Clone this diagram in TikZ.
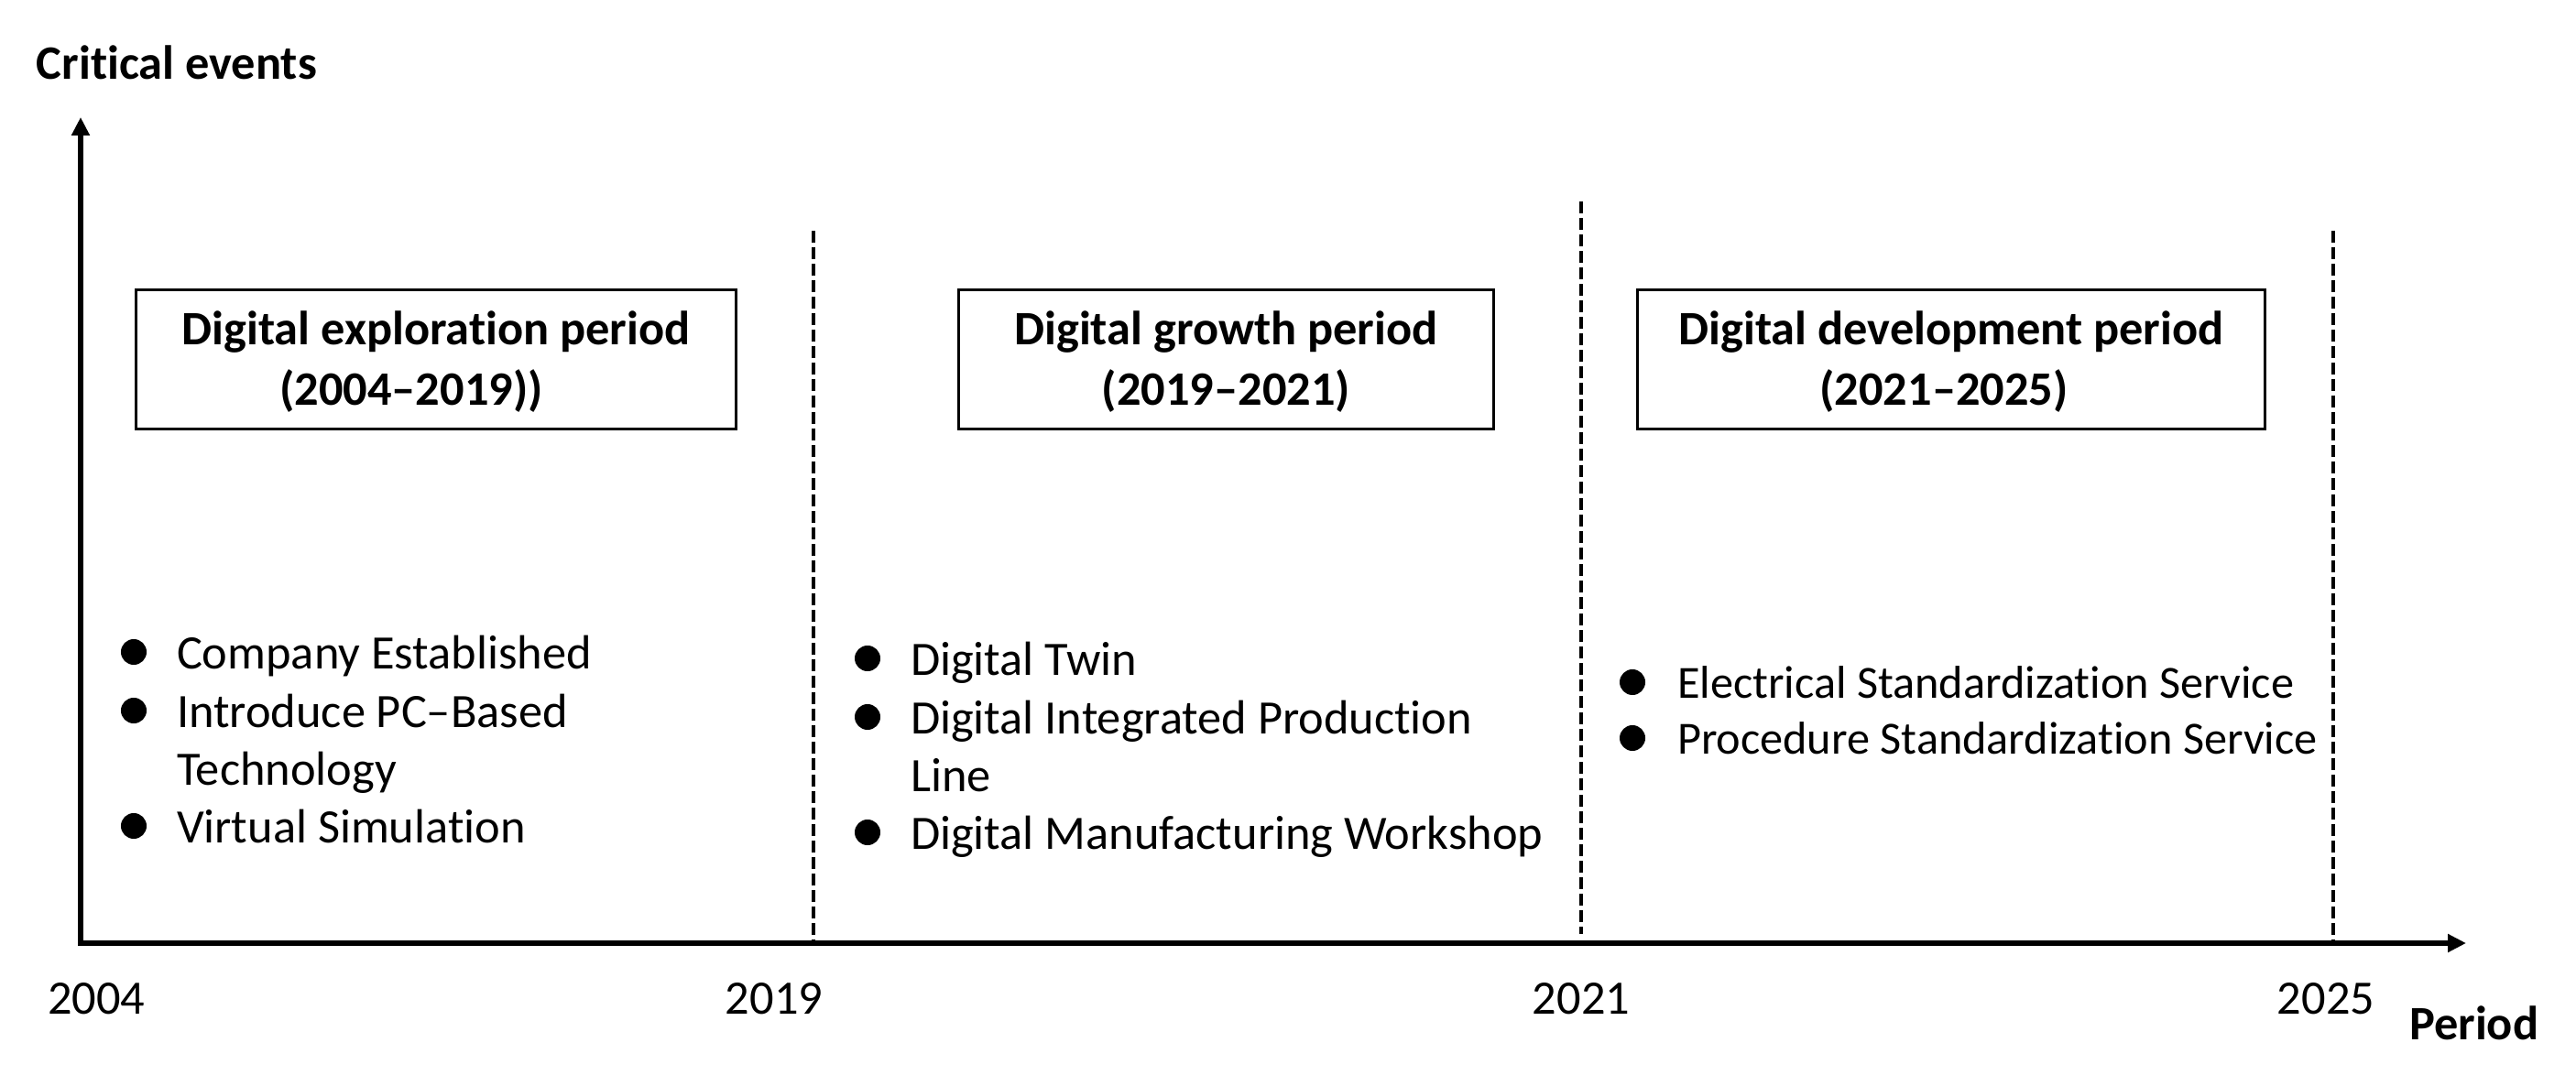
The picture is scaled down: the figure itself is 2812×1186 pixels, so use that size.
\documentclass[tikz,border=0pt]{standalone}
\usepackage{fontspec}
\setmainfont{Carlito}[Ligatures={NoCommon}]
\usetikzlibrary{arrows.meta}
\begin{document}
\begin{tikzpicture}[x=0.01cm,y=-0.01cm,
  lbl/.style={inner sep=0pt, outer sep=0pt, font=\fontsize{14.9}{18}\selectfont},
  smalllbl/.style={inner sep=0pt, outer sep=0pt, font=\fontsize{14.3}{17}\selectfont},
  ttl/.style={inner sep=0pt, outer sep=0pt, font=\fontsize{14.9}{18}\selectfont\bfseries},
  periodbox/.style={draw, line width=0.85pt, inner sep=0pt, outer sep=0pt, minimum height=1.51cm},
  axisline/.style={line width=1.7pt, line join=miter,
    {Triangle[length=0.2cm,width=0.19cm]}-{Triangle[length=0.2cm,width=0.19cm]}},
  divider/.style={line width=1.1pt, dash pattern=on 0.13cm off 0.05cm},
  dot/.style={circle, fill=black, inner sep=0pt, minimum size=0.28cm}
]
\useasboundingbox (0,0) rectangle (2812,1186);

% axes
\coordinate (O) at (88,1030);
\coordinate (ytop) at (88,128);
\coordinate (xend) at (2692,1030);
\draw[axisline] (ytop) -- (O) -- (xend);

% dividers
\coordinate (t19) at (888,252);
\coordinate (t21) at (1726,220);
\coordinate (b21) at (1726,1020);
\coordinate (t25) at (2547,252);
\draw[divider] (t19) -- (t19 |- O);
\draw[divider] (t21) -- (b21);
\draw[divider] (t25) -- (t25 |- O);

% axis titles
\node[ttl, anchor=base west] (ylab) at (40,87) {Critical events};
\node[ttl, anchor=base west] (xlab) at (2630,1135) {Period};

% year labels
\node[lbl, anchor=base west] (y2004) at (52,1107) {2004};
\node[lbl, anchor=base] (y2019) at (845,1107) {2019};
\node[lbl, anchor=base] (y2021) at (1726,1107) {2021};
\node[lbl, anchor=base] (y2025) at (2539,1107) {2025};

% period boxes
\node[periodbox, minimum width=6.54cm] (b1) at (476,392.5) {};
\node[periodbox, minimum width=5.83cm] (b2) at (1338.5,392.5) {};
\node[periodbox, minimum width=6.84cm] (b3) at (2130,392.5) {};

\node[ttl, anchor=base] (b1a) at (476,377) {Digital exploration period};
\node[ttl, anchor=base] (b1b) at (449,443) {(2004–2019))};
\node[ttl, anchor=base] (b2a) at (1338.5,377) {Digital growth period};
\node[ttl, anchor=base] (b2b) at (1338.5,443) {(2019–2021)};
\node[ttl, anchor=base] (b3a) at (2130,377) {Digital development period};
\node[ttl, anchor=base] (b3b) at (2122,443) {(2021–2025)};

% events column 1
\node[dot] (d1a) at (146,712) {};
\node[dot] (d1b) at (146,776) {};
\node[dot] (d1c) at (146,902) {};
\node[lbl, anchor=base west] (e1a) at (193,731) {Company Established};
\node[lbl, anchor=base west] (e1b) at (193,795) {Introduce PC–Based};
\node[lbl, anchor=base west] (e1c) at (193,858) {Technology};
\node[lbl, anchor=base west] (e1d) at (193,921) {Virtual Simulation};

% events column 2
\node[dot] (d2a) at (947,719) {};
\node[dot] (d2b) at (947,783) {};
\node[dot] (d2c) at (947,909) {};
\node[lbl, anchor=base west] (e2a) at (994,738) {Digital Twin};
\node[lbl, anchor=base west] (e2b) at (994,802) {Digital Integrated Production};
\node[lbl, anchor=base west] (e2c) at (994,865) {Line};
\node[lbl, anchor=base west] (e2d) at (994,928) {Digital Manufacturing Workshop};

% events column 3
\node[dot] (d3a) at (1782,745) {};
\node[dot] (d3b) at (1782,806) {};
\node[smalllbl, anchor=base west] (e3a) at (1831,763) {Electrical Standardization Service};
\node[smalllbl, anchor=base west] (e3b) at (1831,824) {Procedure Standardization Service};
\end{tikzpicture}
\end{document}
